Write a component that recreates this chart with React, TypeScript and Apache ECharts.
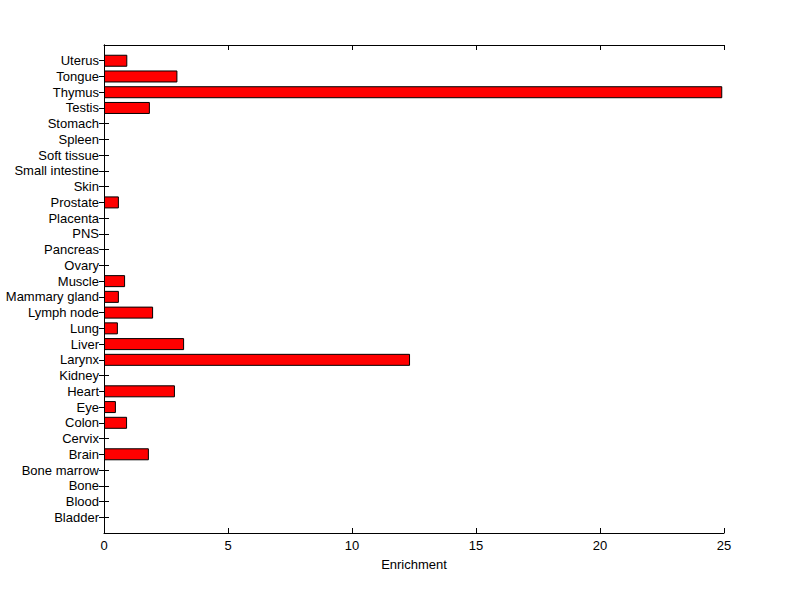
import React, { useEffect, useRef } from "react";
import * as echarts from "echarts";

const categories = [
  "Bladder", "Blood", "Bone", "Bone marrow", "Brain", "Cervix", "Colon", "Eye", "Heart", "Kidney",
  "Larynx", "Liver", "Lung", "Lymph node", "Mammary gland", "Muscle", "Ovary", "Pancreas", "PNS", "Placenta",
  "Prostate", "Skin", "Small intestine", "Soft tissue", "Spleen", "Stomach", "Testis", "Thymus", "Tongue", "Uterus",
];
const values = [
  0, 0, 0, 0, 1.81, 0, 0.93, 0.48, 2.86, 0,
  12.34, 3.23, 0.56, 1.98, 0.6, 0.85, 0, 0, 0, 0,
  0.6, 0, 0, 0, 0, 0, 1.85, 24.93, 2.96, 0.94,
];
const xTicks = [0, 5, 10, 15, 20, 25];
const xName = "Enrichment";

export default function App() {
  const ref = useRef<HTMLDivElement>(null);
  useEffect(() => {
    if (!ref.current) return;
    const chart = echarts.init(ref.current, undefined, { renderer: "svg" });
    const padded = ["", ...categories, ""];
    const data = [null, ...values.map((v) => (v > 0 ? v : null)), null];
    const font = "Liberation Sans, Arial, sans-serif";
    const tickShow = (_i: number, v: string) => v !== "";
    chart.setOption({
      animation: false,
      backgroundColor: "#ffffff",
      grid: { left: 104, right: 76, top: 45, bottom: 66, containLabel: false },
      xAxis: [
        {
          type: "value",
          min: xTicks[0],
          max: xTicks[xTicks.length - 1],
          interval: 5,
          position: "bottom",
          name: xName,
          nameLocation: "middle",
          nameGap: 25,
          nameTextStyle: { color: "#000", fontSize: 13, fontFamily: font },
          axisLine: { show: true, lineStyle: { color: "#000", width: 1 } },
          axisTick: { show: true, inside: true, length: 5, lineStyle: { color: "#000" } },
          axisLabel: { color: "#000", fontSize: 13, fontFamily: font, margin: 6 },
          splitLine: { show: false },
        },
        {
          type: "value",
          min: xTicks[0],
          max: xTicks[xTicks.length - 1],
          interval: 5,
          position: "top",
          axisLine: { show: true, lineStyle: { color: "#000", width: 1 } },
          axisTick: { show: true, inside: true, length: 5, lineStyle: { color: "#000" } },
          axisLabel: { show: false },
          splitLine: { show: false },
        },
      ],
      yAxis: [
        {
          type: "category",
          data: padded,
          boundaryGap: false,
          position: "left",
          axisLine: { show: true, lineStyle: { color: "#000", width: 1 } },
          axisTick: { show: true, inside: true, length: 5, interval: tickShow, lineStyle: { color: "#000" } },
          axisLabel: { color: "#000", fontSize: 13, fontFamily: font, margin: 5, interval: 0 },
          splitLine: { show: false },
        },
        {
          type: "category",
          data: padded,
          boundaryGap: false,
          position: "right",
          axisLine: { show: true, lineStyle: { color: "#000", width: 1 } },
          axisTick: { show: true, inside: true, length: 5, interval: tickShow, lineStyle: { color: "#000" } },
          axisLabel: { show: false },
          splitLine: { show: false },
        },
      ],
      series: [
        {
          type: "bar",
          xAxisIndex: 0,
          yAxisIndex: 0,
          data,
          barWidth: 12,
          itemStyle: { color: "#ff0000", borderColor: "#000", borderWidth: 1 },
        },
      ],
    });
    return () => chart.dispose();
  }, []);
  return <div ref={ref} style={{ width: 800, height: 599, position: "absolute", left: 0, top: 0 }} />;
}
